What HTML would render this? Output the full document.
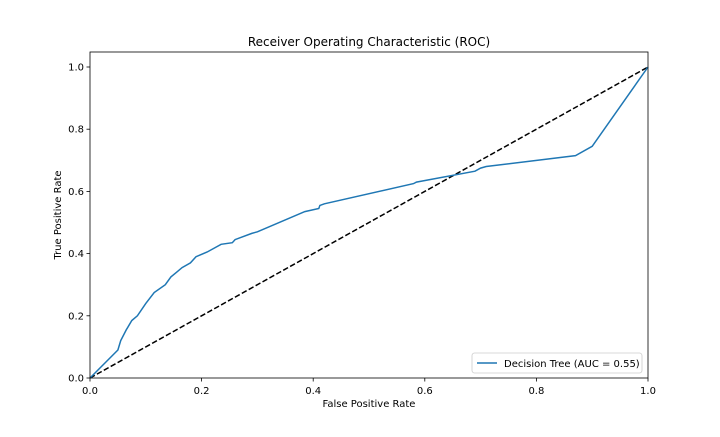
<!DOCTYPE html>
<html><head><meta charset="utf-8"><style>
body{margin:0;background:#fff;}
svg text{font-family:"DejaVu Sans","Liberation Sans",sans-serif;fill:#000;}
</style></head><body>
<svg id="chart" width="720" height="432" xmlns="http://www.w3.org/2000/svg">
<rect x="0" y="0" width="720" height="432" fill="#fff"/>
<g id="plot"></g>
</svg>
<script>
const fprValues=[0,0.05,0.055,0.065,0.075,0.085,0.1,0.115,0.135,0.145,0.155,0.165,0.18,0.19,0.21,0.225,0.235,0.255,0.26,0.29,0.3,0.385,0.41,0.412,0.42,0.58,0.585,0.69,0.7,0.71,0.87,0.9,1];
const tprValues=[0,0.09,0.12,0.155,0.185,0.2,0.24,0.275,0.3,0.325,0.34,0.355,0.37,0.39,0.405,0.42,0.43,0.435,0.445,0.465,0.47,0.535,0.545,0.555,0.56,0.625,0.63,0.665,0.675,0.68,0.715,0.745,1];
const xTicks=[0,0.2,0.4,0.6,0.8,1.0];
const xTickLabels=["0.0","0.2","0.4","0.6","0.8","1.0"];
const yTicks=[0,0.2,0.4,0.6,0.8,1.0];
const yTickLabels=["0.0","0.2","0.4","0.6","0.8","1.0"];
const L=90,R=648,T=52,B=378,Y1=67;
const sx=v=>L+v*(R-L);
const sy=v=>B-v*(B-Y1);
const NS="http://www.w3.org/2000/svg";
const g=document.getElementById('plot');
function mk(tag,attrs,parent){const e=document.createElementNS(NS,tag);for(const k in attrs)e.setAttribute(k,attrs[k]);(parent||g).appendChild(e);return e;}
// diagonal
let d=mk('line',{x1:sx(0),y1:sy(0),x2:sx(1),y2:sy(1),stroke:'#000','stroke-width':1.5,'stroke-dasharray':'5.5,2.4'});


// roc curve
let pts=fprValues.map((v,i)=>sx(v).toFixed(1)+','+sy(tprValues[i]).toFixed(1)).join(' ');
let c=mk('polyline',{points:pts,fill:'none',stroke:'#1f77b4','stroke-width':1.5});


// frame
let f=mk('rect',{x:L,y:T,width:R-L,height:B-T,fill:'none',stroke:'#000','stroke-width':0.8});


xTicks.forEach((v,i)=>{
 let t=mk('line',{x1:sx(v),y1:B,x2:sx(v),y2:B+3.5,stroke:'#000','stroke-width':0.8});
 
 
 let l=mk('text',{x:sx(v),y:B+16,'font-size':10,'text-anchor':'middle'});l.textContent=xTickLabels[i];
 
 
});
yTicks.forEach((v,i)=>{
 let t=mk('line',{x1:L-3.5,y1:sy(v),x2:L,y2:sy(v),stroke:'#000','stroke-width':0.8});
 
 
 let l=mk('text',{x:L-6,y:sy(v)+3.5,'font-size':10,'text-anchor':'end'});l.textContent=yTickLabels[i];
 
 
});
let ti=mk('text',{x:(L+R)/2,y:46,'font-size':12,'text-anchor':'middle'});ti.textContent='Receiver Operating Characteristic (ROC)';


let xl=mk('text',{x:(L+R)/2,y:407,'font-size':10,'text-anchor':'middle'});xl.textContent='False Positive Rate';


let yl=mk('text',{x:0,y:0,'font-size':10,'text-anchor':'middle',transform:'translate(61,'+((T+B)/2)+') rotate(-90)'});yl.textContent='True Positive Rate';


// legend
let lg=mk('g',{});


mk('rect',{x:472,y:353,width:170,height:20,rx:2.5,fill:'#fff',stroke:'#ccc','stroke-width':0.8},lg);
let ll=mk('line',{x1:477,y1:363,x2:497,y2:363,stroke:'#1f77b4','stroke-width':1.5},lg);


let lt=mk('text',{x:504,y:367,'font-size':10},lg);lt.textContent='Decision Tree (AUC = 0.55)';


</script>
</body></html>
